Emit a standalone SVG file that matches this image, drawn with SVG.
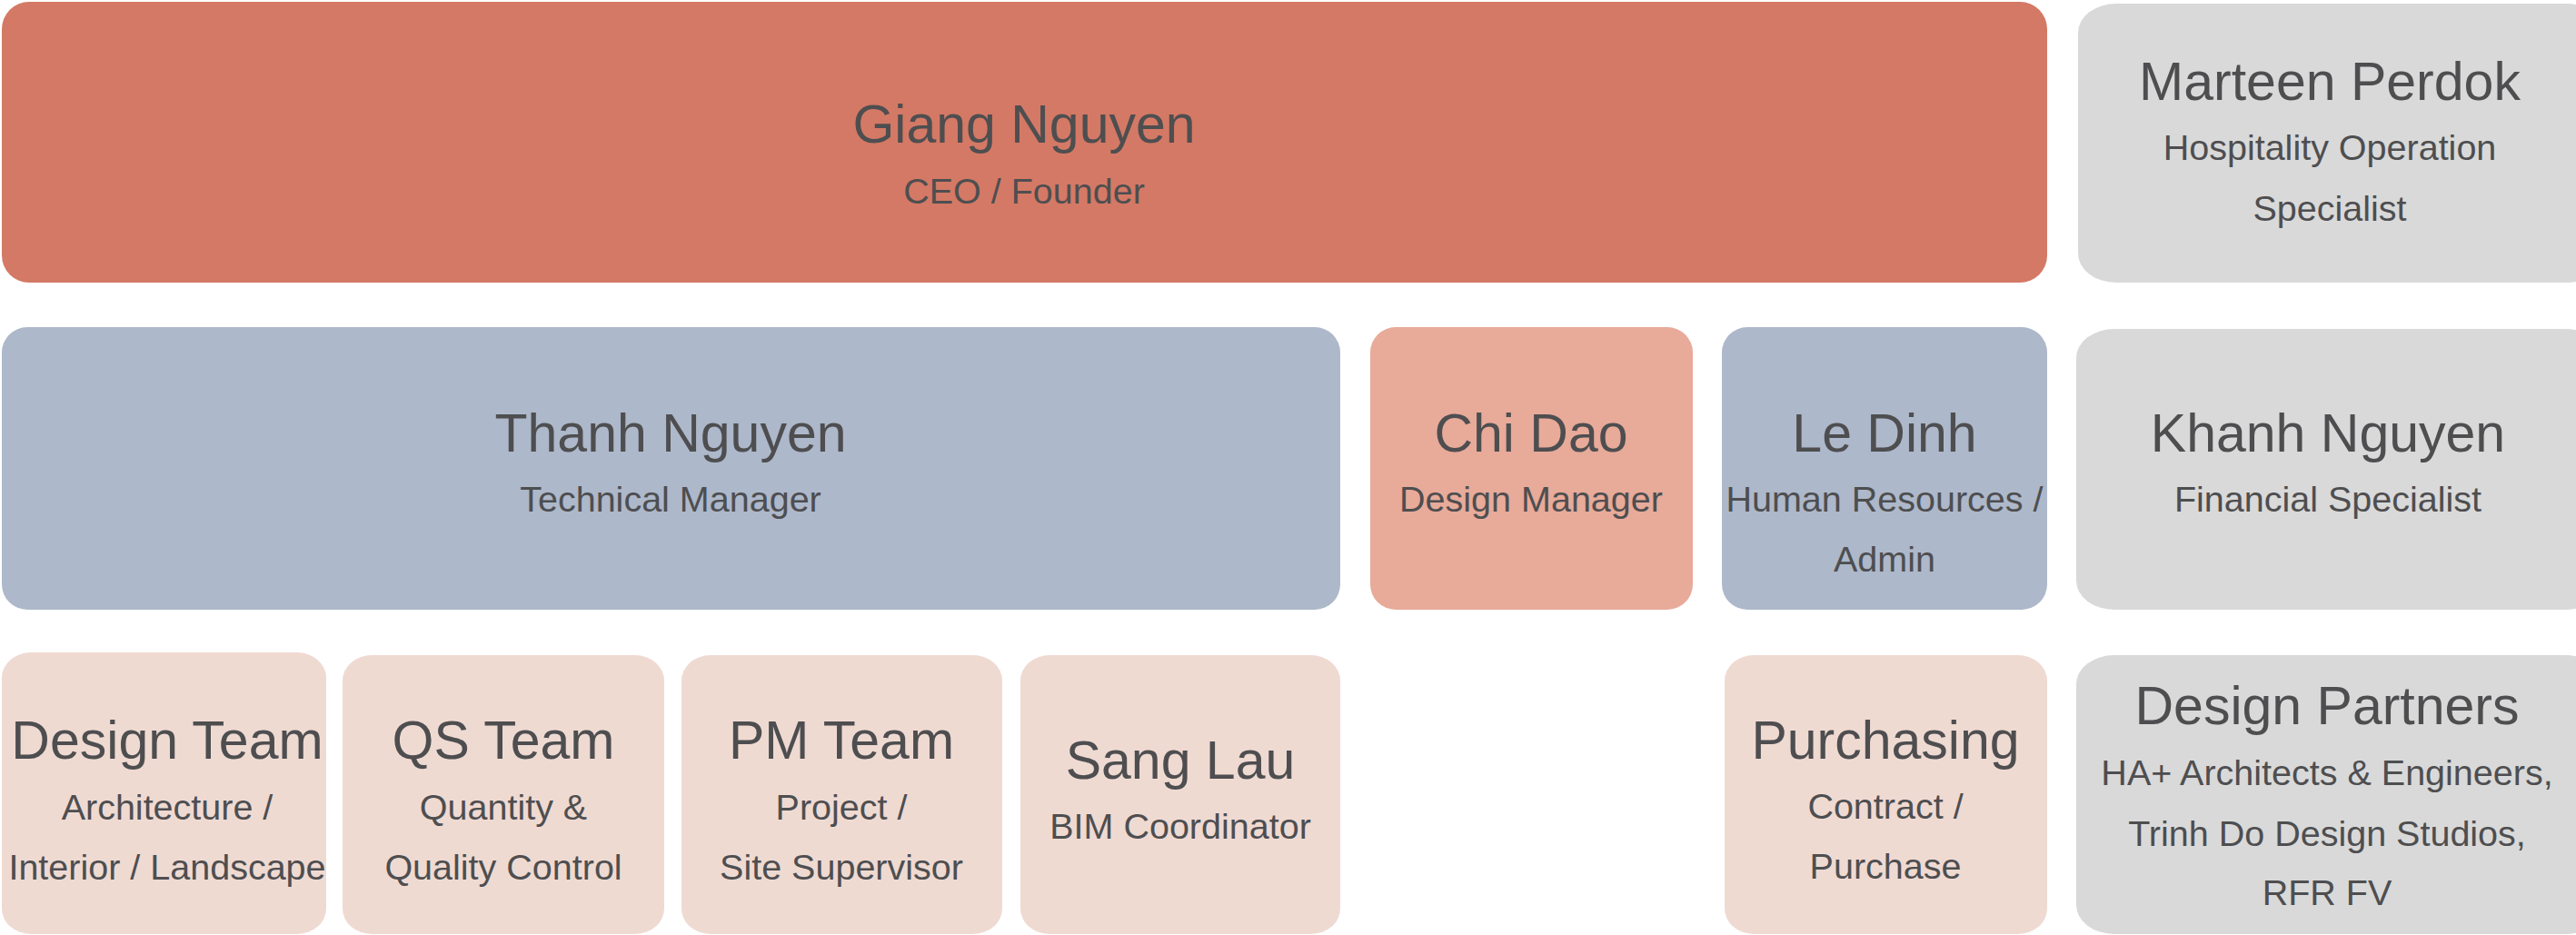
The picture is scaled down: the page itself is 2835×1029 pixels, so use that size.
<svg xmlns="http://www.w3.org/2000/svg" width="2835" height="1029" viewBox="0 0 2835 1029">
<style>
text{font-family:"Liberation Sans",Arial,sans-serif;fill:#4E4E50;text-anchor:middle}
.t{font-size:59px}
.s{font-size:39.5px}
.ceo{fill:#D47965}
.blue{fill:#ADB8CA}
.salmon{fill:#E8AA99}
.pink{fill:#EFDAD2}
.gray{fill:#D9D9D9}
</style>
<rect width="2835" height="1029" fill="#FFFFFF"/>
<g id="connectors"/>
<g id="giang"><rect class="ceo" x="2" y="2" width="2251" height="309" rx="30"/><text class="t" x="1127" y="157">Giang Nguyen</text><text class="s" x="1127" y="224">CEO / Founder</text></g>
<g id="marteen"><rect class="gray" x="2287" y="4" width="580" height="307" rx="42" ry="32"/><text class="t" x="2564" y="110">Marteen Perdok</text><text class="s" x="2564" y="176">Hospitality Operation</text><text class="s" x="2564" y="243">Specialist</text></g>
<g id="thanh"><rect class="blue" x="2" y="360" width="1473" height="311" rx="28"/><text class="t" x="738" y="497">Thanh Nguyen</text><text class="s" x="738" y="563">Technical Manager</text></g>
<g id="chi"><rect class="salmon" x="1508" y="360" width="355" height="311" rx="28"/><text class="t" x="1685" y="497">Chi Dao</text><text class="s" x="1685" y="563">Design Manager</text></g>
<g id="le"><rect class="blue" x="1895" y="360" width="358" height="311" rx="28"/><text class="t" x="2074" y="497">Le Dinh</text><text class="s" x="2074" y="563">Human Resources /</text><text class="s" x="2074" y="629">Admin</text></g>
<g id="khanh"><rect class="gray" x="2285" y="362" width="580" height="309" rx="42" ry="32"/><text class="t" x="2562" y="497">Khanh Nguyen</text><text class="s" x="2562" y="563">Financial Specialist</text></g>
<g id="design-team"><rect class="pink" x="2" y="718" width="357" height="310" rx="32" ry="28"/><text class="t" x="184" y="835">Design Team</text><text class="s" x="184" y="902">Architecture /</text><text class="s" x="184" y="968">Interior / Landscape</text></g>
<g id="qs-team"><rect class="pink" x="377" y="721" width="354" height="307" rx="32" ry="28"/><text class="t" x="554" y="835">QS Team</text><text class="s" x="554" y="902">Quantity &amp;</text><text class="s" x="554" y="968">Quality Control</text></g>
<g id="pm-team"><rect class="pink" x="750" y="721" width="353" height="307" rx="32" ry="28"/><text class="t" x="926" y="835">PM Team</text><text class="s" x="926" y="902">Project /</text><text class="s" x="926" y="968">Site Supervisor</text></g>
<g id="sang"><rect class="pink" x="1123" y="721" width="352" height="307" rx="32" ry="28"/><text class="t" x="1299" y="857">Sang Lau</text><text class="s" x="1299" y="923">BIM Coordinator</text></g>
<g id="purchasing"><rect class="pink" x="1898" y="721" width="355" height="307" rx="32" ry="28"/><text class="t" x="2075" y="835">Purchasing</text><text class="s" x="2075" y="901">Contract /</text><text class="s" x="2075" y="967">Purchase</text></g>
<g id="partners"><rect class="gray" x="2285" y="721" width="580" height="307" rx="42" ry="32"/><text class="t" x="2561" y="797">Design Partners</text><text class="s" x="2561" y="864">HA+ Architects &amp; Engineers,</text><text class="s" x="2561" y="931">Trinh Do Design Studios,</text><text class="s" x="2561" y="996">RFR FV</text></g>
</svg>
